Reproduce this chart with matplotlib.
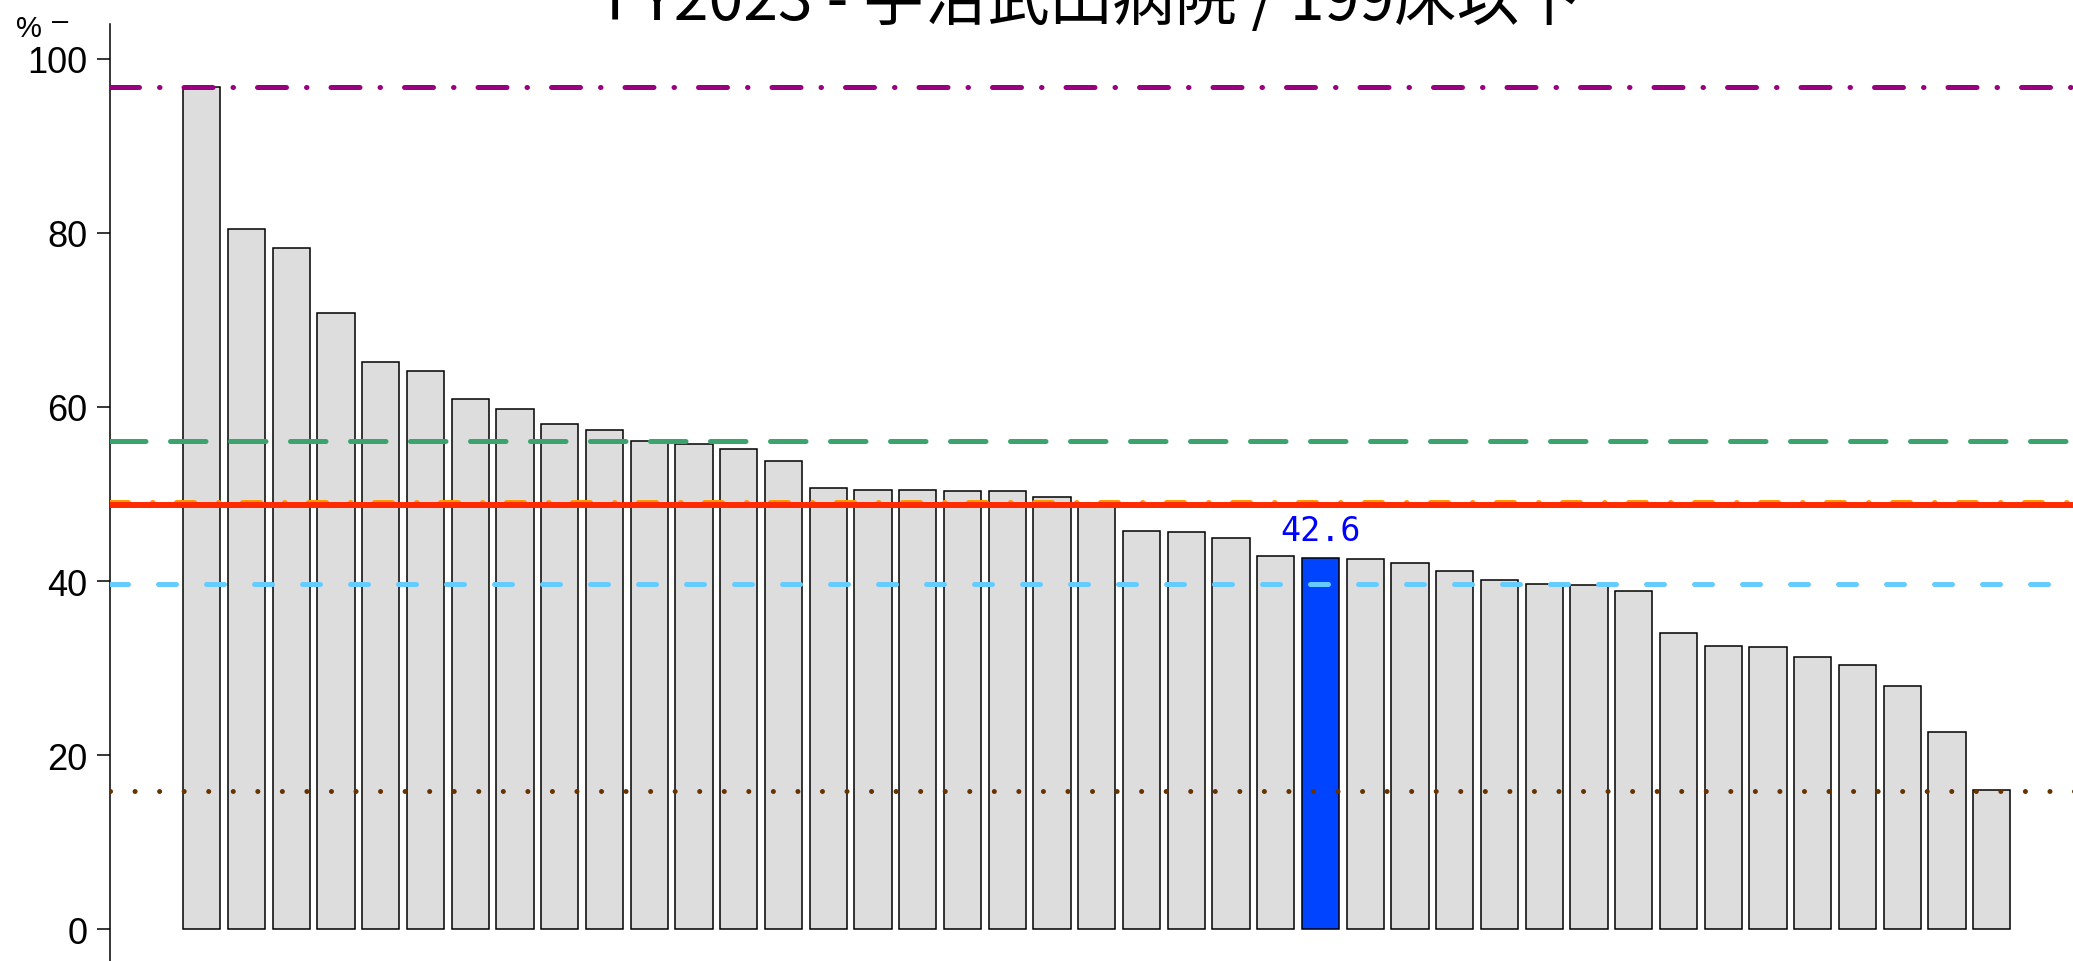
import numpy as np
import matplotlib
matplotlib.use("Agg")
import matplotlib.pyplot as plt

# data
title = "FY2023 - 宇治武田病院 / 199床以下"
rates = [96.7, 80.4, 78.3, 70.8, 65.1, 64.1, 60.9, 59.8, 58.0, 57.3,
         56.1, 55.7, 55.2, 53.8, 50.7, 50.5, 50.5, 50.4, 50.3, 49.7,
         49.0, 45.7, 45.6, 44.9, 42.9, 42.6, 42.5, 42.1, 41.2, 40.1,
         39.7, 39.6, 38.9, 34.0, 32.6, 32.4, 31.3, 30.4, 27.9, 22.7, 16.0]
highlight = 25          # index of own hospital
highlight_text = "42.6"
y_ticks = [0, 20, 40, 60, 80, 100]

# reference lines: max, upper, median, mean, lower, min
line_max = 96.7
line_q3 = 56.1
line_median = 49.1
line_mean = 48.7
line_q1 = 39.7
line_min = 15.9

W, H = 2073, 962
fig = plt.figure(figsize=(W / 100, H / 100), dpi=100)
ax = fig.add_axes([110 / W, (H - 965.3) / H, 1973.5 / W, 940.6 / H])

# R-style barplot layout: width 1, space 0.2
x = 0.7 + 1.2 * np.arange(len(rates))
colors = ["#DDDDDD"] * len(rates)
colors[highlight] = "#0044FF"
ax.bar(x, rates, width=1.0, color=colors, edgecolor="black", linewidth=1.1, zorder=2)

ax.axhline(line_max, color="#990080", lw=3.6, dashes=(5.8, 4, 0.1, 4.8),
           dash_capstyle="round", zorder=3)
ax.axhline(line_q3, color="#3AA36E", lw=3.6, dashes=(7.1, 4.9),
           dash_capstyle="round", zorder=3)
ax.axhline(line_median, color="#FF9900", lw=3.6, dashes=(3.6, 4.8, 0.1, 4.7),
           dash_capstyle="round", zorder=3)
ax.axhline(line_mean, color="#FF2A00", lw=4.3, zorder=4)
ax.axhline(line_q1, color="#66CCFF", lw=3.6, dashes=(3.6, 6),
           dash_capstyle="round", zorder=3)
ax.axhline(line_min, color="#663300", lw=3.6, dashes=(0.01, 4.9),
           dash_capstyle="round", zorder=3)

ax.text(x[highlight], rates[highlight] + 1.3, highlight_text, color="#0000FF",
        ha="center", va="bottom", fontsize=24, family="DejaVu Sans Mono", zorder=5)

ax.set_xlim(-1.76, 51.16)
ax.set_ylim(-4, 104)
ax.set_yticks(y_ticks)
ax.set_yticklabels([str(v) for v in y_ticks], family="Liberation Sans", fontsize=26)
ax.set_xticks([])
ax.tick_params(axis="y", length=9.4, width=1.1, pad=7)
for s in ["top", "right", "bottom"]:
    ax.spines[s].set_visible(False)
ax.spines["left"].set_linewidth(1.1)

fig.text(16 / W, 1 - 37 / H, "%", fontsize=21, family="Liberation Sans", va="baseline")
fig.text(52 / W, 1 - 22 / H, "–", fontsize=21, family="Liberation Sans", va="center")
fig.text(1094 / W, 1 - 20 / H, title, ha="center", va="baseline", fontsize=45,
         family=["Noto Sans CJK JP", "DejaVu Sans"])

fig.savefig("out.png", dpi=100)
